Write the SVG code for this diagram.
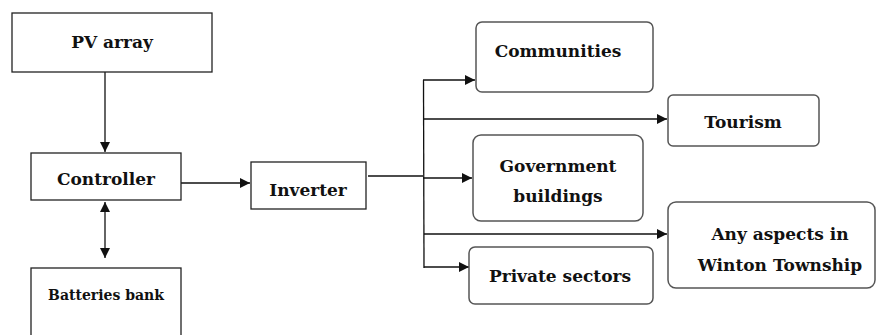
<svg xmlns="http://www.w3.org/2000/svg" width="877" height="335" viewBox="0 0 877 335">
<style>
.box{fill:#fff;stroke:#222;stroke-width:1.3}
.rbox{fill:#fff;stroke:#555;stroke-width:1.5}
.t{font-family:"DejaVu Serif","Liberation Serif",serif;font-weight:bold;font-size:17px;fill:#111;text-anchor:middle}
.s{font-size:14px}
.ln{stroke:#111;stroke-width:1.3;fill:none}
</style>
<defs>
<marker id="ah" viewBox="0 0 10 10" refX="10" refY="5" markerWidth="10" markerHeight="10" markerUnits="userSpaceOnUse" orient="auto-start-reverse">
<path d="M0,0 L10,5 L0,10 z" fill="#111"/>
</marker>
</defs>
<g id="connectors">
<line class="ln" x1="105" y1="72" x2="105" y2="152" marker-end="url(#ah)"/>
<line class="ln" x1="181" y1="183" x2="250" y2="183" marker-end="url(#ah)"/>
<line class="ln" x1="105" y1="202" x2="105" y2="258" marker-start="url(#ah)" marker-end="url(#ah)"/>
<polyline class="ln" points="368,176 423,176"/>
<line class="ln" x1="423.5" y1="80" x2="424" y2="268"/>
<line class="ln" x1="423" y1="80" x2="475" y2="80" marker-end="url(#ah)"/>
<line class="ln" x1="424" y1="119" x2="667" y2="119" marker-end="url(#ah)"/>
<line class="ln" x1="423" y1="178" x2="472" y2="178" marker-end="url(#ah)"/>
<line class="ln" x1="424" y1="234" x2="667" y2="234" marker-end="url(#ah)"/>
<line class="ln" x1="424" y1="267" x2="469" y2="267" marker-end="url(#ah)"/>
</g>
<g id="pv"><rect class="box" x="12" y="13" width="200" height="59"/><text class="t" x="112" y="48">PV array</text></g>
<g id="controller"><rect class="box" x="31" y="153" width="150" height="47"/><text class="t" x="106" y="185">Controller</text></g>
<g id="batteries"><rect class="box" x="31" y="268" width="150" height="80"/><text class="t s" x="106" y="300">Batteries bank</text></g>
<g id="inverter"><rect class="box" x="251" y="162" width="115" height="47"/><text class="t" x="308" y="196">Inverter</text></g>
<g id="communities"><rect class="rbox" x="476" y="22" width="177" height="70" rx="6"/><text class="t" x="558" y="57">Communities</text></g>
<g id="tourism"><rect class="rbox" x="668" y="95" width="151" height="51" rx="5"/><text class="t" x="743" y="128">Tourism</text></g>
<g id="government"><rect class="rbox" x="473" y="135" width="170" height="86" rx="8"/><text class="t" x="558" y="172">Government</text><text class="t" x="558" y="202">buildings</text></g>
<g id="anyaspects"><rect class="rbox" x="668" y="202" width="207" height="86" rx="8"/><text class="t" x="780" y="240">Any aspects in</text><text class="t" x="780" y="271">Winton Township</text></g>
<g id="private"><rect class="rbox" x="469" y="247" width="184" height="57" rx="6"/><text class="t" x="560" y="282">Private sectors</text></g>
</svg>
